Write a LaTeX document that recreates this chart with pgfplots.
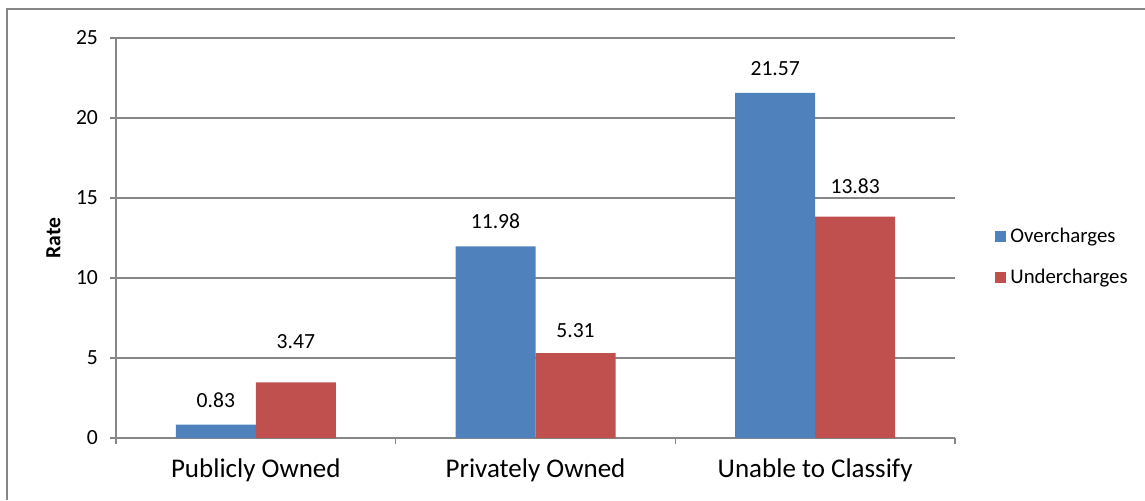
\documentclass[border=0pt]{standalone}
\usepackage{pgfplots}
\pgfplotsset{compat=1.18}
\usepackage{fontspec}
\setmainfont{Carlito}
\definecolor{ob}{HTML}{4F81BD}
\definecolor{ur}{HTML}{C0504D}
\definecolor{ax}{HTML}{868686}
\begin{document}
\begin{tikzpicture}[x=1pt,y=1pt]
\useasboundingbox (0,0) rectangle (572.5,250);
\draw[ax, line width=0.75pt] (3.5,0) -- (3.5,245.5) -- (572.5,245.5);
\begin{axis}[
  at={(58pt,31pt)}, anchor=south west,
  scale only axis, width=419.5pt, height=200pt,
  clip=false,
  ybar=0pt, bar width=40pt,
  xmin=-0.5, xmax=2.5, ymin=0, ymax=25,
  ytick={0,5,...,25},
  xtick={0,1,2},
  xticklabels={Publicly Owned, Privately Owned, Unable to Classify},
  minor xtick={-0.5,0.5,1.5,2.5},
  axis x line*=bottom, axis y line*=left,
  axis line style={ax, line width=0.75pt, -},
  ymajorgrids, grid style={ax, line width=0.75pt},
  major tick length=3pt, minor tick length=3pt,
  tick align=outside,
  major x tick style={draw=none},
  minor x tick style={ax, line width=0.75pt},
  y tick style={ax, line width=0.75pt},
  /pgf/number format/assume math mode=true,
  /pgf/number format/fixed, /pgf/number format/precision=2,
  yticklabel style={font=\fontsize{10.8}{13}\selectfont, text=black, xshift=-2.5pt},
  xticklabel style={font=\fontsize{13.5}{16}\selectfont, text=black, yshift=-4pt},
  visualization depends on={\thisrow{off} \as \off},
  nodes near coords,
  nodes near coords style={font=\fontsize{10.8}{13}\selectfont, text=black, anchor=base, inner sep=0pt, yshift=\off pt},
  legend style={at={(1.0477,0.4525)}, anchor=west, draw=none, inner sep=0pt,
    font=\fontsize{10.4}{12.5}\selectfont, row sep=8pt},
  legend cell align=left,
  legend image code/.code={\fill[#1] (0pt,-2.75pt) rectangle (5.5pt,2.75pt);},
]
\addplot[fill=ob, draw=none] table[x=x, y=y] {
x y off
0 0.83 8.5
1 11.98 9
2 21.57 8.5
};
\addplot[fill=ur, draw=none] table[x=x, y=y] {
x y off
0 3.47 17
1 5.31 8
2 13.83 11.5
};
\legend{Overcharges, Undercharges}
\node[rotate=90, font=\bfseries\fontsize{10.8}{13}\selectfont] at (rel axis cs:-0.0745,0.5) {Rate};
\end{axis}
\end{tikzpicture}
\end{document}
